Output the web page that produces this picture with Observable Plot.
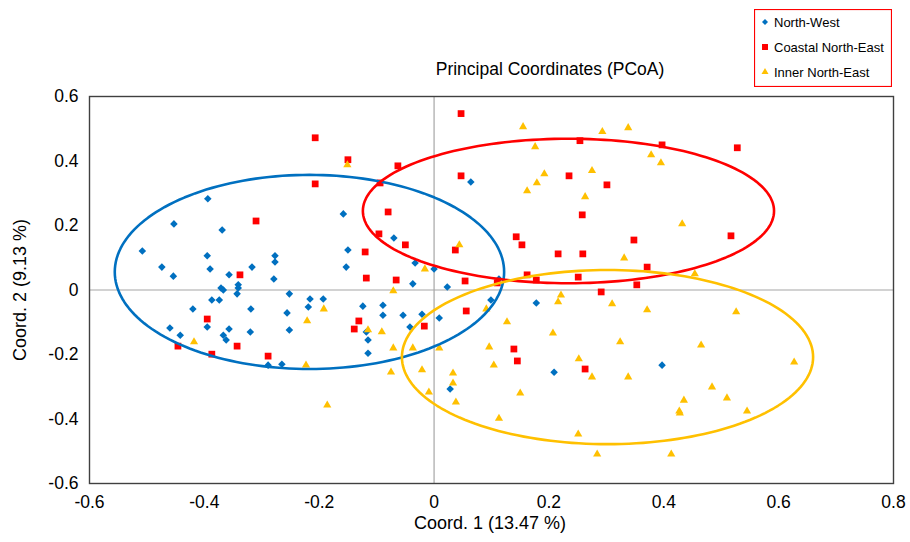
<!DOCTYPE html>
<html><head><meta charset="utf-8">
<script src="https://cdn.jsdelivr.net/npm/d3@7"></script>
<script src="https://cdn.jsdelivr.net/npm/@observablehq/plot@0.6"></script>
<style>
body{margin:0;background:#fff;}
#wrap{position:relative;width:910px;height:542px;font-family:"Liberation Sans",Arial,sans-serif;color:#000;}
#chart{position:absolute;left:0;top:0;}
.lbl{position:absolute;font-size:18px;white-space:nowrap;}
#title{left:550px;top:59px;transform:translateX(-50%);font-size:17.5px;}
#xlab{left:490px;top:513px;transform:translateX(-50%);}
#ylab{left:20px;top:290px;transform:translate(-50%,-50%) rotate(-90deg);}
#legend{position:absolute;left:754px;top:9px;}
</style>
</head><body>
<div id="wrap">
<div id="chart"></div>
<div class="lbl" id="title">Principal Coordinates (PCoA)</div>
<div class="lbl" id="xlab">Coord. 1 (13.47 %)</div>
<div class="lbl" id="ylab">Coord. 2 (9.13 %)</div>
<svg id="legend" width="138" height="78"></svg>
</div>
<script>
// ---- data ----
const seriesNames = ["North-West", "Coastal North-East", "Inner North-East"];
const seriesColors = ["#0070C0", "#FF0000", "#FFC000"];
const seriesSymbols = ["diamond2", "square2", "triangle2"];
const xTicks = [-0.6, -0.4, -0.2, 0, 0.2, 0.4, 0.6, 0.8];
const yTicks = [-0.6, -0.4, -0.2, 0, 0.2, 0.4, 0.6];

const northWest = [
[-0.394,0.283],[-0.453,0.205],[-0.369,0.186],[-0.508,0.121],[-0.395,0.106],[-0.474,0.071],
[-0.390,0.065],[-0.317,0.071],[-0.454,0.043],[-0.357,0.047],[-0.371,0.006],[-0.367,0.000],
[-0.341,0.016],[-0.341,0.006],[-0.343,-0.012],[-0.387,-0.031],[-0.374,-0.031],[-0.420,-0.059],
[-0.319,-0.059],[-0.460,-0.118],[-0.395,-0.115],[-0.357,-0.121],[-0.442,-0.140],[-0.367,-0.140],
[-0.362,-0.155],[-0.320,-0.130],[-0.158,0.236],[-0.070,0.161],[-0.150,0.124],[-0.277,0.106],
[-0.277,0.087],[-0.153,0.071],[-0.033,0.084],[-0.279,0.034],[-0.037,0.019],[0.000,0.065],
[-0.252,-0.012],[-0.216,-0.028],[-0.193,-0.028],[-0.219,-0.053],[-0.256,-0.071],[-0.124,-0.050],
[-0.089,-0.047],[-0.089,-0.078],[-0.054,-0.078],[-0.021,-0.075],[0.009,-0.087],[-0.252,-0.124],
[-0.042,-0.115],[-0.118,-0.130],[-0.115,-0.155],[-0.115,-0.196],[-0.289,-0.233],[-0.265,-0.230],
[0.064,0.335],[0.023,0.009],[0.113,0.034],[0.099,-0.031],[0.178,-0.040],[0.209,-0.255],
[0.397,-0.233],[0.028,-0.307]
];
const coastalNE = [
[-0.207,0.472],[-0.150,0.404],[-0.063,0.385],[-0.207,0.329],[-0.080,0.242],[-0.310,0.214],
[-0.096,0.174],[-0.050,0.140],[-0.120,0.118],[-0.118,0.037],[-0.066,0.031],[-0.338,0.047],
[-0.395,-0.090],[-0.446,-0.174],[-0.343,-0.174],[-0.387,-0.199],[-0.289,-0.205],[-0.131,-0.096],
[-0.139,-0.121],[-0.017,-0.112],[0.047,0.547],[0.047,0.354],[0.254,0.463],[0.235,0.354],
[0.301,0.326],[0.258,0.233],[0.397,0.450],[0.528,0.441],[0.143,0.165],[0.153,0.140],
[0.037,0.124],[0.216,0.112],[0.259,0.112],[0.054,0.028],[0.110,0.022],[0.162,0.047],
[0.178,0.031],[0.251,0.040],[0.291,-0.006],[0.056,-0.065],[0.139,-0.183],[0.145,-0.220],
[0.263,-0.245],[0.348,0.155],[0.517,0.168],[0.371,0.071],[0.353,0.016],[-0.094,0.332]
];
const innerNE = [
[-0.151,0.388],[-0.418,-0.161],[-0.016,0.065],[-0.071,-0.003],[-0.192,-0.059],[-0.221,-0.096],
[-0.115,-0.124],[-0.091,-0.130],[-0.071,-0.180],[-0.037,-0.180],[-0.223,-0.233],[-0.075,-0.255],
[-0.021,-0.248],[-0.009,-0.317],[-0.186,-0.357],[0.155,0.506],[0.293,0.491],[0.176,0.444],
[0.192,0.360],[0.275,0.370],[0.179,0.332],[0.162,0.307],[0.263,0.289],[0.338,0.503],
[0.378,0.419],[0.395,0.394],[0.432,0.205],[0.044,0.140],[0.221,-0.016],[0.216,-0.037],
[0.091,-0.059],[0.127,-0.099],[0.207,-0.134],[0.009,-0.180],[0.096,-0.177],[0.252,-0.214],
[0.104,-0.233],[0.331,0.099],[0.454,0.050],[0.310,-0.043],[0.371,-0.062],[0.526,-0.068],
[0.324,-0.161],[0.465,-0.171],[0.627,-0.224],[0.033,-0.258],[0.033,-0.289],[0.038,-0.348],
[0.150,-0.320],[0.113,-0.398],[0.275,-0.270],[0.251,-0.447],[0.284,-0.509],[0.338,-0.270],
[0.484,-0.301],[0.435,-0.342],[0.510,-0.335],[0.427,-0.376],[0.428,-0.382],[0.545,-0.376],
[0.413,-0.509]
];
// group ellipses: center x, center y, radius x, radius y
const ellipseCx = [-0.217, 0.234, 0.302];
const ellipseCy = [0.056, 0.245, -0.208];
const ellipseRx = [0.339, 0.358, 0.358];
const ellipseRy = [0.301, 0.224, 0.270];

// ---- build ----
const seriesData = [northWest, coastalNE, innerNE];
const points = seriesData.flatMap((arr, i) => arr.map(([x, y]) => ({x, y, s: seriesNames[i]})));
const ellipses = seriesNames.flatMap((s, i) => d3.range(0, 361, 2).map(a => {
  const t = a * Math.PI / 180;
  return {s, x: ellipseCx[i] + ellipseRx[i] * Math.cos(t), y: ellipseCy[i] + ellipseRy[i] * Math.sin(t)};
}));
const fmt = d => d === 0 ? "0" : d.toFixed(1);
const sizes = [3.4, 4.3, 3.9];

const marks = [
  Plot.ruleX([0], {stroke: "#a6a6a6", strokeWidth: 1.2}),
  Plot.ruleY([0], {stroke: "#a6a6a6", strokeWidth: 1.2}),
  ...seriesNames.map((s, i) => Plot.dot(points.filter(d => d.s === s), {
    x: "x", y: "y", symbol: () => seriesSymbols[i], fill: seriesColors[i], stroke: "none", r: sizes[i]
  })),
  ...seriesNames.map((s, i) => Plot.line(ellipses.filter(d => d.s === s), {
    x: "x", y: "y", stroke: seriesColors[i], strokeWidth: 2.6
  })),
  Plot.frame({stroke: "#404040", strokeWidth: 1.4}),
  Plot.axisX(xTicks, {tickSize: 0, tickPadding: 12, tickFormat: fmt, fontSize: 17.5, label: null}),
  Plot.axisY(yTicks, {tickSize: 0, tickPadding: 11, tickFormat: fmt, fontSize: 17.5, label: null})
];

const chart = Plot.plot({
  width: 910, height: 542,
  marginLeft: 89, marginRight: 17, marginTop: 96, marginBottom: 59,
  x: {domain: [-0.6, 0.8]},
  y: {domain: [-0.6, 0.6]},
  symbol: {type: "identity"},
  style: {fontFamily: "'Liberation Sans', Arial, sans-serif", fontSize: "17px", color: "#000", background: "#fff"},
  marks
});
document.getElementById("chart").appendChild(chart);

// legend
const lg = d3.select("#legend");
lg.append("rect").attr("x", 0.5).attr("y", 0.5).attr("width", 137).attr("height", 77)
  .attr("fill", "#fff").attr("stroke", "#FF0000").attr("stroke-width", 1.2);
const legSym = [d3.symbolDiamond2, d3.symbolSquare2, d3.symbolTriangle2];
const legSizes = [2.7, 3.8, 3.35];
seriesNames.forEach((s, i) => {
  const y = 13 + i * 25;
  lg.append("path").attr("transform", `translate(11,${y})`)
    .attr("d", d3.symbol(legSym[i], legSizes[i] * legSizes[i] * Math.PI)()).attr("fill", seriesColors[i]);
  lg.append("text").attr("x", 20).attr("y", y).attr("dy", "0.35em")
    .attr("font-size", 13).attr("font-family", "'Liberation Sans', Arial, sans-serif").text(s);
});
</script>
</body></html>
